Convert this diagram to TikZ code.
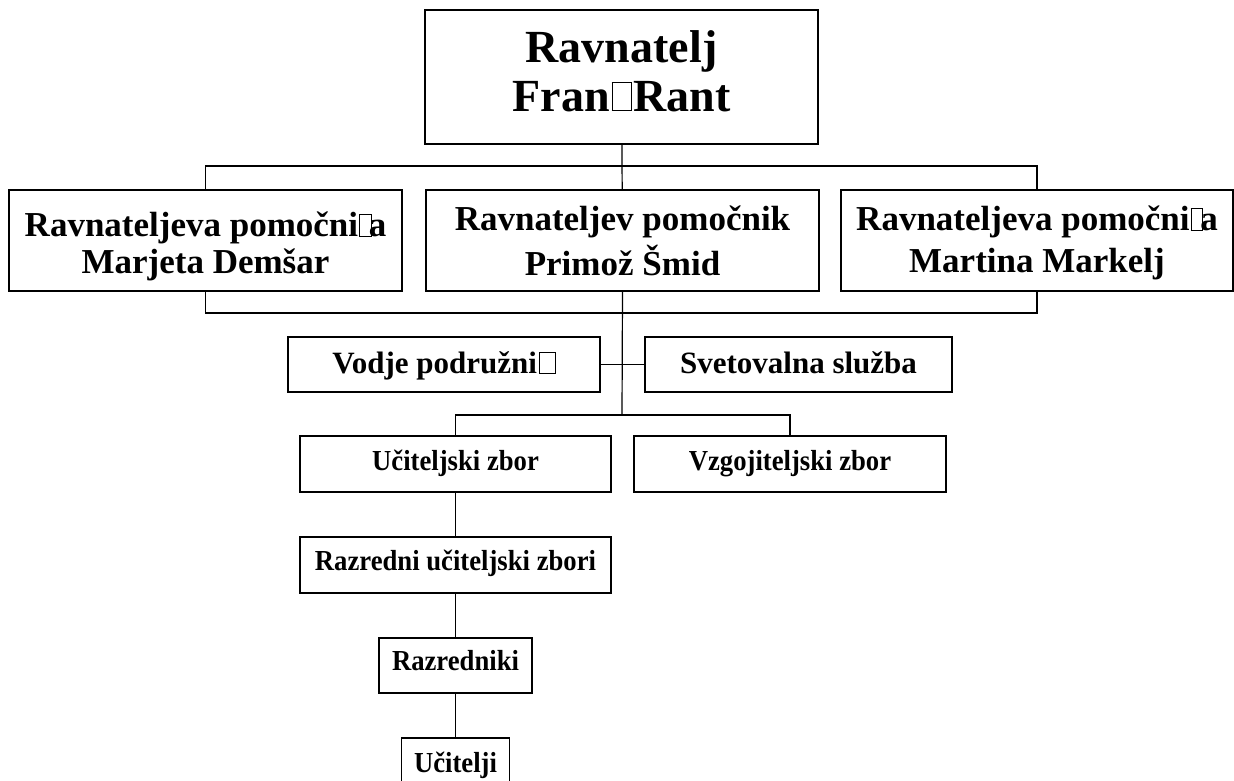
\documentclass[tikz,border=0pt]{standalone}
\usepackage{fontspec}
\setmainfont{Liberation Serif}
\newfontfamily\narrowserif[FakeStretch=0.92]{Liberation Serif}
\usepackage{tikz}

% empty box standing in for a glyph the font lacks
\newcommand\nochar[2]{{\setlength\fboxsep{0pt}\setlength\fboxrule{0.8pt}\fbox{\vrule width 0pt height #2\hspace*{#1}}}}
% two centred lines, baseline on the first one
\newcommand\boxlines[2]{\begin{tabular}[t]{@{}c@{}}#1\\#2\end{tabular}}

\tikzset{
  orgbox/.style={draw,line width=1.4pt,inner sep=0pt,font=\bfseries},
  link/.style={line width=1.2pt},
  bigtxt/.style={font=\bfseries\fontsize{46}{49}\selectfont},
  leftxt/.style={font=\bfseries\fontsize{35}{37}\selectfont},
  midtxt/.style={font=\bfseries\fontsize{35}{45}\selectfont},
  rigtxt/.style={font=\bfseries\fontsize{35}{42}\selectfont},
  subtxt/.style={font=\bfseries\fontsize{31}{33}\selectfont},
  lowtxt/.style={font=\narrowserif\bfseries\fontsize{29}{31}\selectfont}
}

\begin{document}
\begin{tikzpicture}[x=1pt,y=-1pt]
      \useasboundingbox (0,0) rectangle (1234,781);
      \clip (0,0) rectangle (1234,781);
      \node[orgbox,bigtxt,minimum width=393pt,minimum height=134pt,text height=0pt,text depth=28pt] (head) at (621.5,77) {\boxlines{Ravnatelj}{Fran\kern2pt\raisebox{2pt}{\nochar{19pt}{27pt}}\kern1pt Rant}};
      \node[orgbox,leftxt,minimum width=393pt,minimum height=101pt,text height=0pt,text depth=9pt] (depl) at (205.5,240.5) {\boxlines{Ravnateljeva pomočni\kern1pt\nochar{11pt}{21pt}\kern-3pt a}{Marjeta Demšar}};
      \node[orgbox,midtxt,minimum width=393pt,minimum height=101pt,text height=0pt,text depth=21pt] (depm) at (622.5,240.5) {\boxlines{Ravnateljev pomočnik}{Primož Šmid}};
      \node[orgbox,rigtxt,minimum width=392pt,minimum height=101pt,text height=0pt,text depth=21pt] (depr) at (1037,240.5) {\boxlines{Ravnateljeva pomočni\kern1pt\nochar{11pt}{21pt}\kern-3pt a}{Martina Markelj}};
      \node[orgbox,subtxt,minimum width=312pt,minimum height=55pt,text height=17pt,text depth=0pt] (branch) at (444,364.5) {Vodje podružni\kern2pt\nochar{15pt}{20pt}};
      \node[orgbox,subtxt,minimum width=307pt,minimum height=55pt,text height=17pt,text depth=0pt] (advice) at (798.5,364.5) {Svetovalna služba};
      \node[orgbox,lowtxt,minimum width=311pt,minimum height=56pt,text height=12pt,text depth=0pt] (staff) at (455.5,464) {Učiteljski zbor};
      \node[orgbox,lowtxt,minimum width=312pt,minimum height=56pt,text height=12pt,text depth=0pt] (kinder) at (790,464) {Vzgojiteljski zbor};
      \node[orgbox,lowtxt,minimum width=311pt,minimum height=56pt,text height=11pt,text depth=0pt] (class) at (455.5,565) {Razredni učiteljski zbori};
      \node[orgbox,lowtxt,minimum width=153pt,minimum height=55pt,text height=10pt,text depth=0pt] (tutor) at (455.5,665.5) {Razredniki};
      \node[orgbox,lowtxt,minimum width=108pt,minimum height=56pt,text height=12pt,text depth=0pt] (teach) at (455.5,766) {Učitelji};
      \coordinate (busa) at (622,166);
      \coordinate (busb) at (622,313);
      \coordinate (busc) at (622,415);
      \draw[link] (head) -- (depm);
      \draw[link] (depl.north) |- (busa) -| (depr.north);
      \draw[link] (depl.south) |- (busb) -| (depr.south);
      \draw[link] (depm.south) -- (busc);
      \draw[link] (branch) -- (advice);
      \draw[link] (staff.north) |- (busc) -| (kinder.north);
      \draw[link] (staff) -- (class);
      \draw[link] (class) -- (tutor);
      \draw[link] (tutor) -- (teach);
    \end{tikzpicture}
\end{document}
